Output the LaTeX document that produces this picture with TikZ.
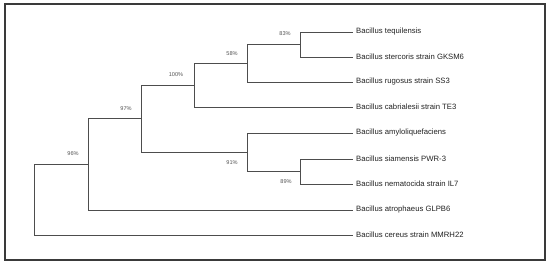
\documentclass[tikz,border=0pt]{standalone}
\usepackage{fontspec}
\setmainfont{Liberation Sans}
\usepackage{tikz}
\usetikzlibrary{positioning, calc}
\usepackage{xcolor}
\definecolor{Branch}{HTML}{4D4D4D}
\definecolor{Frame}{HTML}{3A3A3A}
\definecolor{TextDark}{HTML}{222222}
\definecolor{TextDim}{HTML}{555555}

\begin{document}
\begin{tikzpicture}[x=1pt, y=-1pt,
            branch/.style={draw=Branch, line width=0.8pt},
            leaf/.style={anchor=west, inner xsep=3pt, inner ysep=0pt, text=TextDark, font=\fontsize{7.7}{9}\selectfont},
            boot/.style={inner sep=0pt, text=TextDim, font=\fontsize{5.6}{6}\selectfont},
            frame/.style={draw=Frame, line width=1.1pt}
        ]
            \useasboundingbox (0,0) rectangle (550,265);
            \draw[frame] (5,4) rectangle (545,260);

            % Internal nodes
            \coordinate (root) at (34,199.5);
            \coordinate (n96) at (88,164);
            \coordinate (n97) at (141,118);
            \coordinate (n100) at (194,85);
            \coordinate (n58) at (247,63);
            \coordinate (n83) at (300,44.5);
            \coordinate (n91) at (247,152);
            \coordinate (n89) at (300,171.5);

            % Leaves
            \node[leaf] (tequ) at (353,32) {Bacillus tequilensis};
            \node[leaf] (ster) at (353,57) {Bacillus stercoris strain GKSM6};
            \node[leaf] (rugo) at (353,82) {Bacillus rugosus strain SS3};
            \node[leaf] (cabr) at (353,107) {Bacillus cabrialesii strain TE3};
            \node[leaf] (amyl) at (353,133) {Bacillus amyloliquefaciens};
            \node[leaf] (siam) at (353,159) {Bacillus siamensis PWR-3};
            \node[leaf] (nema) at (353,184) {Bacillus nematocida strain IL7};
            \node[leaf] (atro) at (353,210) {Bacillus atrophaeus GLPB6};
            \node[leaf] (cere) at (353,235) {Bacillus cereus strain MMRH22};

            % Bootstrap values
            \node[boot] (b83) at (285,34) {83\%};
            \node[boot] (b58) at (232,54) {58\%};
            \node[boot] (b100) at (176,75) {100\%};
            \node[boot] (b97) at (126,109) {97\%};
            \node[boot] (b96) at (73,154) {96\%};
            \node[boot] (b91) at (232,163) {91\%};
            \node[boot] (b89) at (286,182) {89\%};

            % Branches
            \draw[branch] (root) |- (n96);
            \draw[branch] (root) |- (cere.west);
            \draw[branch] (n96) |- (n97);
            \draw[branch] (n96) |- (atro.west);
            \draw[branch] (n97) |- (n100);
            \draw[branch] (n97) |- (n91);
            \draw[branch] (n100) |- (n58);
            \draw[branch] (n100) |- (cabr.west);
            \draw[branch] (n58) |- (n83);
            \draw[branch] (n58) |- (rugo.west);
            \draw[branch] (n83) |- (tequ.west);
            \draw[branch] (n83) |- (ster.west);
            \draw[branch] (n91) |- (amyl.west);
            \draw[branch] (n91) |- (n89);
            \draw[branch] (n89) |- (siam.west);
            \draw[branch] (n89) |- (nema.west);
        \end{tikzpicture}
\end{document}
